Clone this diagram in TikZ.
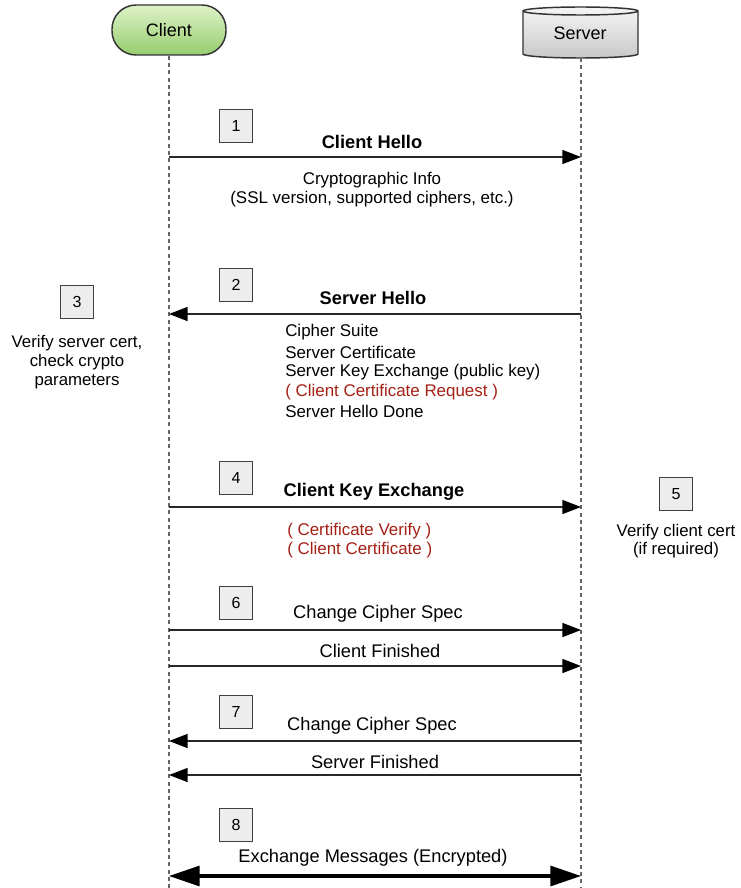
\documentclass[tikz,border=0pt]{standalone}
\usepackage{fontspec}
\setmainfont{Liberation Sans}
\usetikzlibrary{arrows.meta}
\definecolor{redtxt}{RGB}{165,32,20}
\definecolor{linegray}{RGB}{40,40,40}
\definecolor{greentop}{RGB}{222,242,200}
\definecolor{greenbot}{RGB}{150,205,110}
\definecolor{graytop}{RGB}{245,245,245}
\definecolor{graybot}{RGB}{200,200,200}
\begin{document}
\begin{tikzpicture}[x=0.75pt,y=-0.75pt,
  lbl/.style={font=\fontsize{13.7}{16}\selectfont, inner sep=0pt},
  blbl/.style={font=\fontsize{13.7}{16}\selectfont\bfseries, inner sep=0pt},
  det/.style={font=\fontsize{12.7}{14.8}\selectfont, inner sep=0pt},
  side/.style={font=\fontsize{12.6}{14.6}\selectfont, inner sep=0pt, align=center},
  numbox/.style={draw=black!75, fill=black!7, line width=0.9pt, minimum size=25pt, inner sep=0pt, font=\fontsize{12}{14}\selectfont},
  msg/.style={draw=linegray, line width=1.1pt, -{Triangle[length=14pt,width=10.5pt,color=black]}},
  bigmsg/.style={draw=black, line width=2.3pt, {Triangle[length=23pt,width=15pt]}-{Triangle[length=23pt,width=15pt]}},
  life/.style={draw=black!60, line width=0.8pt, dash pattern=on 3pt off 2.5pt}]
\useasboundingbox (0,0) rectangle (740,888);
\fill[white] (0,0) rectangle (740,888);

% lifelines
\coordinate (cbot) at (169,888);
\coordinate (stop) at (581,58);
\coordinate (sbot) at (581,888);

% client
\node[draw=black!80, line width=1.1pt, rounded corners=18pt, minimum width=85.5pt, minimum height=37.5pt,
      top color=greentop, bottom color=greenbot, font=\fontsize{13.5}{16}\selectfont] (client) at (169,30) {Client};

% server cylinder
\shade[top color=graytop, bottom color=graybot, draw=black!80, line width=1.1pt]
  (523,11) -- (523,54) arc[start angle=180, end angle=0, x radius=57.5, y radius=4]
  -- (638,11) arc[start angle=0, end angle=-180, x radius=57.5, y radius=4] -- cycle;
\draw[black!80, line width=1.1pt] (523,11) arc[start angle=180, end angle=0, x radius=57.5, y radius=4];
\node[font=\fontsize{13.5}{16}\selectfont, inner sep=0pt] (server) at (580,33) {Server};

\draw[life] (client.south) -- (cbot);
\draw[life] (stop) -- (sbot);

% step 1
\node[numbox] (n1) at (236,126) {1};
\node[blbl] (t1) at (372,142) {Client Hello};
\coordinate (c1) at (169,157); \coordinate (s1) at (581,157);
\draw[msg] (c1) -- (s1);
\node[det] (d1a) at (372,180) {Cryptographic Info};
\node[det] (d1b) at (372,199) {(SSL version, supported ciphers, etc.)};

% step 2
\node[numbox] (n2) at (236,285) {2};
\node[blbl] (t2) at (373,298) {Server Hello};
\coordinate (c2) at (169,314); \coordinate (s2) at (581,314);
\draw[msg] (s2) -- (c2);
\node[det, anchor=west] (d2a) at (285,332) {Cipher Suite};
\node[det, anchor=west] (d2b) at (285,352) {Server Certificate};
\node[det, anchor=west] (d2c) at (285,372) {Server Key Exchange (public key)};
\node[det, anchor=west, text=redtxt] (d2d) at (285,392) {( Client Certificate Request )};
\node[det, anchor=west] (d2e) at (285,411) {Server Hello Done};

% step 3
\node[numbox] (n3) at (77,302) {3};
\node[side] (s3a) at (77,343) {Verify server cert,};
\node[side] (s3b) at (77,362) {check crypto};
\node[side] (s3c) at (77,382) {parameters};

% step 4
\node[numbox] (n4) at (236,478) {4};
\node[blbl] (t4) at (374,492) {Client Key Exchange};
\coordinate (c4) at (169,507); \coordinate (s4) at (581,507);
\draw[msg] (c4) -- (s4);
\node[det, anchor=west, text=redtxt] (d4a) at (287,531) {( Certificate Verify )};
\node[det, anchor=west, text=redtxt] (d4b) at (287,550) {( Client Certificate )};

% step 5
\node[numbox] (n5) at (676,494) {5};
\node[side] (s5a) at (676,532) {Verify client cert};
\node[side] (s5b) at (676,550) {(if required)};

% step 6
\node[numbox] (n6) at (236,603) {6};
\node[lbl] (t6) at (378,614) {Change Cipher Spec};
\coordinate (c6) at (169,630); \coordinate (s6) at (581,630);
\draw[msg] (c6) -- (s6);
\node[lbl] (t6b) at (380,651) {Client Finished};
\coordinate (c6b) at (169,666); \coordinate (s6b) at (581,666);
\draw[msg] (c6b) -- (s6b);

% step 7
\node[numbox] (n7) at (236,712) {7};
\node[lbl] (t7) at (372,726) {Change Cipher Spec};
\coordinate (c7) at (169,741); \coordinate (s7) at (581,741);
\draw[msg] (s7) -- (c7);
\node[lbl] (t7b) at (375,762) {Server Finished};
\coordinate (c7b) at (169,775); \coordinate (s7b) at (581,775);
\draw[msg] (s7b) -- (c7b);

% step 8
\node[numbox] (n8) at (236,825) {8};
\node[lbl] (t8) at (373,858) {Exchange Messages (Encrypted)};
\coordinate (c8) at (169,876); \coordinate (s8) at (581,876);
\draw[bigmsg] (c8) -- (s8);
\end{tikzpicture}
\end{document}
